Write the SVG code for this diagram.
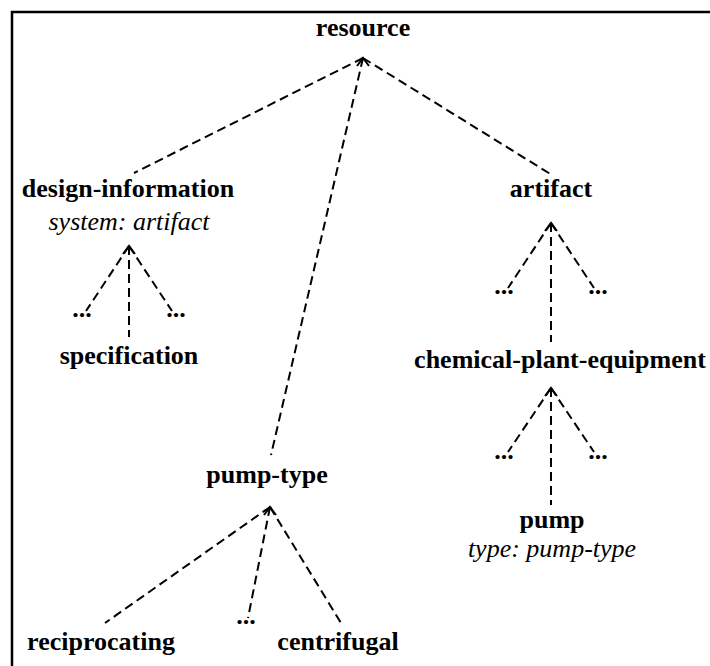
<svg xmlns="http://www.w3.org/2000/svg" width="710" height="666" viewBox="0 0 710 666">
<style>
text{font-family:'Liberation Serif','Times New Roman',Tinos,'DejaVu Serif',serif;font-size:26px;text-anchor:middle;fill:#000}
.b{font-weight:bold}
.i{font-style:italic}
.c line{stroke:#000;stroke-width:2;stroke-dasharray:9 5;fill:none}
.ch{stroke:#000;stroke-width:2;fill:none}
</style>
<defs>
<path id="chev" d="M-6,8 L0,0 L6,8"/>
</defs>
<rect width="710" height="666" fill="#fff"/>
<path d="M12,666 V12 H710" fill="none" stroke="#000" stroke-width="2.5"/>
<g id="connectors" class="c">
<line x1="363" y1="58" x2="134" y2="173"/>
<line x1="363" y1="58" x2="271" y2="455"/>
<line x1="363" y1="58" x2="552" y2="175"/>
<line x1="129" y1="246" x2="86" y2="311"/>
<line x1="129" y1="246" x2="129" y2="337"/>
<line x1="129" y1="246" x2="172" y2="311"/>
<line x1="551" y1="223" x2="508" y2="288"/>
<line x1="551" y1="223" x2="551" y2="342"/>
<line x1="551" y1="223" x2="594" y2="288"/>
<line x1="551" y1="388" x2="508" y2="452"/>
<line x1="551" y1="388" x2="551" y2="505"/>
<line x1="551" y1="388" x2="594" y2="452"/>
<line x1="270" y1="507" x2="105" y2="623"/>
<line x1="270" y1="507" x2="248" y2="618"/>
<line x1="270" y1="507" x2="341" y2="623"/>
<use href="#chev" class="ch" transform="translate(363,58)"/>
<use href="#chev" class="ch" transform="translate(129,246)"/>
<use href="#chev" class="ch" transform="translate(551,223)"/>
<use href="#chev" class="ch" transform="translate(551,388)"/>
<use href="#chev" class="ch" transform="translate(270,507)"/>
</g>
<g id="resource"><text class="b" x="363" y="36">resource</text></g>
<g id="design-information"><text class="b" x="128" y="197">design-information</text><text class="i" x="129" y="230">system: artifact</text></g>
<g id="dots-di-left"><text class="b" x="82" y="317">...</text></g>
<g id="dots-di-right"><text class="b" x="176" y="317">...</text></g>
<g id="specification"><text class="b" x="129" y="364">specification</text></g>
<g id="artifact"><text class="b" x="551" y="197">artifact</text></g>
<g id="dots-ar-left"><text class="b" x="504" y="294">...</text></g>
<g id="dots-ar-right"><text class="b" x="598" y="294">...</text></g>
<g id="chemical-plant-equipment"><text class="b" x="560" y="368">chemical-plant-equipment</text></g>
<g id="dots-cpe-left"><text class="b" x="504" y="459">...</text></g>
<g id="dots-cpe-right"><text class="b" x="598" y="459">...</text></g>
<g id="pump"><text class="b" x="552" y="528">pump</text><text class="i" x="552" y="557">type: pump-type</text></g>
<g id="pump-type"><text class="b" x="267" y="483">pump-type</text></g>
<g id="reciprocating"><text class="b" x="101" y="650">reciprocating</text></g>
<g id="dots-pt"><text class="b" x="246" y="624">...</text></g>
<g id="centrifugal"><text class="b" x="338" y="650">centrifugal</text></g>
</svg>
